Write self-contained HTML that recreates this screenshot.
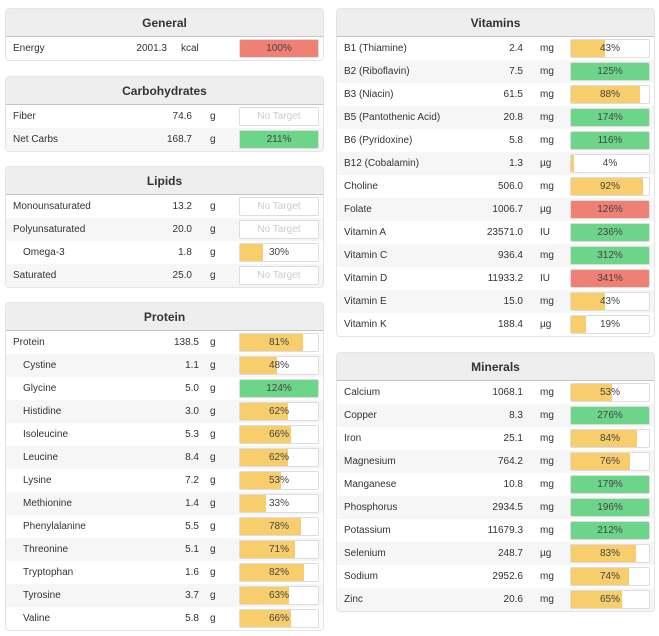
<!DOCTYPE html>
<html><head><meta charset="utf-8">
<style>
*{box-sizing:border-box;margin:0;padding:0}
body{width:659px;height:636px;background:#fff;font-family:"Liberation Sans",sans-serif;font-size:10px;color:#333;position:relative;overflow:hidden}
.panel{position:absolute;width:319px;border:1px solid #e4e4e4;border-radius:4px;overflow:hidden;background:#fff}
.hdr{height:28px;background:#eee;border-bottom:1px solid #c4c4c4;text-align:center;font-weight:bold;font-size:12px;line-height:28px;color:#333}
.row{position:relative;height:23px}
.row.alt{background:#f6f6f6}
.nm{position:absolute;top:6px;left:7px}
.nm.sub{left:17px}
.val{position:absolute;top:6px;text-align:right}
.unit{position:absolute;top:6px}
.bar{position:absolute;top:2px;left:233px;width:80px;height:19px;border:1px solid #ddd;border-radius:2px;background:#fff;overflow:hidden}
.fill{position:absolute;left:0;top:0;bottom:0}
.pct{position:absolute;left:0;right:0;top:3px;text-align:center;color:#444}
.nt{color:#ccc}
</style></head><body>
<script>
const panels=[
 {title:'General',x:5,y:8,unitX:175,valR:163,names:['Energy'],subs:[0],vals:['2001.3'],units:['kcal'],pcts:[100],cols:['r']},
 {title:'Carbohydrates',x:5,y:76,unitX:204,valR:188,names:['Fiber','Net Carbs'],subs:[0,0],vals:['74.6','168.7'],units:['g','g'],pcts:[null,211],cols:['','g']},
 {title:'Lipids',x:5,y:166,unitX:204,valR:188,names:['Monounsaturated','Polyunsaturated','Omega-3','Saturated'],subs:[0,0,1,0],vals:['13.2','20.0','1.8','25.0'],units:['g','g','g','g'],pcts:[null,null,30,null],cols:['','','y','']},
 {title:'Protein',x:5,y:302,unitX:204,valR:195,names:['Protein','Cystine','Glycine','Histidine','Isoleucine','Leucine','Lysine','Methionine','Phenylalanine','Threonine','Tryptophan','Tyrosine','Valine'],subs:[0,1,1,1,1,1,1,1,1,1,1,1,1],vals:['138.5','1.1','5.0','3.0','5.3','8.4','7.2','1.4','5.5','5.1','1.6','3.7','5.8'],units:['g','g','g','g','g','g','g','g','g','g','g','g','g'],pcts:[81,48,124,62,66,62,53,33,78,71,82,63,66],cols:['y','y','g','y','y','y','y','y','y','y','y','y','y']},
 {title:'Vitamins',x:336,y:8,unitX:203,valR:188,names:['B1 (Thiamine)','B2 (Riboflavin)','B3 (Niacin)','B5 (Pantothenic Acid)','B6 (Pyridoxine)','B12 (Cobalamin)','Choline','Folate','Vitamin A','Vitamin C','Vitamin D','Vitamin E','Vitamin K'],subs:[0,0,0,0,0,0,0,0,0,0,0,0,0],vals:['2.4','7.5','61.5','20.8','5.8','1.3','506.0','1006.7','23571.0','936.4','11933.2','15.0','188.4'],units:['mg','mg','mg','mg','mg','µg','mg','µg','IU','mg','IU','mg','µg'],pcts:[43,125,88,174,116,4,92,126,236,312,341,43,19],cols:['y','g','y','g','g','y','y','r','g','g','r','y','y']},
 {title:'Minerals',x:336,y:352,unitX:203,valR:188,names:['Calcium','Copper','Iron','Magnesium','Manganese','Phosphorus','Potassium','Selenium','Sodium','Zinc'],subs:[0,0,0,0,0,0,0,0,0,0],vals:['1068.1','8.3','25.1','764.2','10.8','2934.5','11679.3','248.7','2952.6','20.6'],units:['mg','mg','mg','mg','mg','mg','mg','µg','mg','mg'],pcts:[53,276,84,76,179,196,212,83,74,65],cols:['y','g','y','y','g','g','g','y','y','y']}
];
const colorMap={r:'#ef8074',g:'#6dd58a',y:'#f8cd6b'};
panels.forEach(p=>{
 const el=document.createElement('div');el.className='panel';
 
 
 el.style.left=p.x+'px';el.style.top=p.y+'px';
 let h='<div class="hdr">'+p.title+'</div>';
 p.names.forEach((n,i)=>{
  const pc=p.pcts[i];
  let bar;
  if(pc===null){bar='<div class="bar"><div class="pct nt">No Target</div></div>';}
  else{bar='<div class="bar"><div class="fill" style="width:'+Math.min(pc,100)+'%;background:'+colorMap[p.cols[i]]+'"></div><div class="pct">'+pc+'%</div></div>';}
  h+='<div class="row'+(i%2?' alt':'')+'">'+
   '<span class="nm'+(p.subs[i]?' sub':'')+'">'+n+'</span>'+
   '<span class="val" style="right:'+(319-p.valR)+'px">'+p.vals[i]+'</span>'+
   '<span class="unit" style="left:'+p.unitX+'px">'+p.units[i]+'</span>'+bar+'</div>';
 });
 el.innerHTML=h;
 document.body.appendChild(el);
});
</script>
</body></html>
